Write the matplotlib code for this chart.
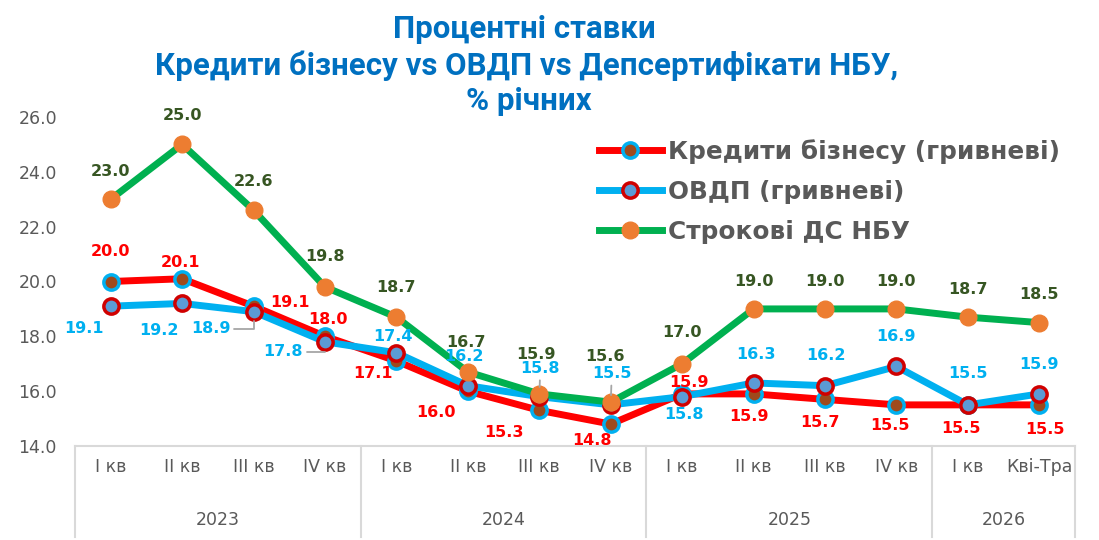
import matplotlib
matplotlib.use("Agg")
import matplotlib.pyplot as plt
import matplotlib.transforms as mtransforms

# ── дані ──
quarters = ["I кв", "II кв", "III кв", "IV кв",
            "I кв", "II кв", "III кв", "IV кв",
            "I кв", "II кв", "III кв", "IV кв",
            "I кв", "Кві-Тра"]
years = ["2023", "2024", "2025", "2026"]
year_spans = [(0, 3), (4, 7), (8, 11), (12, 13)]

credit = [20.0, 20.1, 19.1, 18.0, 17.1, 16.0, 15.3, 14.8, 15.9, 15.9, 15.7, 15.5, 15.5, 15.5]
ovdp = [19.1, 19.2, 18.9, 17.8, 17.4, 16.2, 15.8, 15.5, 15.8, 16.3, 16.2, 16.9, 15.5, 15.9]
ds_nbu = [23.0, 25.0, 22.6, 19.8, 18.7, 16.7, 15.9, 15.6, 17.0, 19.0, 19.0, 19.0, 18.7, 18.5]

labels = ["Кредити бізнесу (гривневі)", "ОВДП (гривневі)", "Строкові ДС НБУ"]

# зсуви підписів у пікселях (dx, dy)
credit_off = [(0, 30), (-2, 16), (36, 4), (3, 17), (-23, -12), (-32, -21), (-35, -22),
              (-19, -16), (7, 11), (-5, -23), (-5, -23), (-6, -21), (-7, -24), (6, -25)]
ovdp_off = [(-27, -22), (-23, -27), (-43, -17), (-42, -10), (-3, 16), (-4, 29), (1, 28),
            (1, 31), (2, -18), (2, 28), (1, 30), (0, 30), (0, 31), (0, 29)]
ds_off = [(0, 28), (0, 29), (0, 29), (0, 30), (0, 30), (-2, 29), (-3, 39),
          (-6, 46), (0, 31), (0, 27), (0, 27), (0, 27), (0, 28), (0, 28)]
ovdp_leader = {2: "elbow", 3: "elbow", 6: "straight", 7: "straight"}

GRAY = "#595959"
AXIS = "#D9D9D9"

fig = plt.figure(figsize=(10.99, 5.40), dpi=100)
ax = fig.add_axes([75 / 1099, 1 - 446 / 540, 1000 / 1099, 329 / 540])

x = list(range(len(quarters)))

l1, = ax.plot(x, credit, color="#FF0000", lw=5, marker="o", ms=11,
              mfc="#9E4A1C", mec="#00B0F0", mew=2.5, zorder=3)
l2, = ax.plot(x, ovdp, color="#00B0F0", lw=5, marker="o", ms=11,
              mfc="#5B9BD5", mec="#D00000", mew=2.5, zorder=4)
l3, = ax.plot(x, ds_nbu, color="#00B050", lw=5, marker="o", ms=12,
              mfc="#ED7D31", mec="#ED7D31", mew=1, zorder=5)

ax.set_xlim(-0.5, len(quarters) - 0.5)
ax.set_ylim(14, 26)
ax.set_yticks(range(14, 27, 2))
ax.set_yticklabels([f"{v:.1f}" for v in range(14, 27, 2)])
ax.set_xticks(x)
ax.set_xticklabels(quarters)
ax.tick_params(axis="y", length=0, pad=13, labelsize=12.5, labelcolor=GRAY)
ax.tick_params(axis="x", length=0, pad=9, labelsize=12.5, labelcolor=GRAY)
for s in ["top", "right", "left"]:
    ax.spines[s].set_visible(False)
ax.spines["bottom"].set_color(AXIS)
ax.spines["bottom"].set_linewidth(1.5)

# рамка категорій
trans = mtransforms.blended_transform_factory(ax.transData, ax.transAxes)
for b in [-0.5, 3.5, 7.5, 11.5, 13.5]:
    ax.plot([b, b], [0, -0.277], transform=trans, color=AXIS, lw=1.5, clip_on=False)
for yr, (a, b) in zip(years, year_spans):
    ax.text((a + b) / 2, -0.225, yr, transform=trans, ha="center", va="center",
            fontsize=12.5, color=GRAY)

# підписи даних
def put_labels(vals, offs, color, leaders=None):
    for i, (v, (dx, dy)) in enumerate(zip(vals, offs)):
        kw = {}
        if leaders and i in leaders:
            cs = "angle,angleA=0,angleB=90,rad=0" if leaders[i] == "elbow" else "arc3"
            kw["arrowprops"] = dict(arrowstyle="-", color="#A6A6A6", lw=1.3,
                                    shrinkA=1, shrinkB=7, connectionstyle=cs)
        ax.annotate(f"{v:.1f}", xy=(i, v), xytext=(dx, dy), textcoords="offset pixels",
                    ha="center", va="center", fontsize=11.5, fontweight="bold",
                    color=color, zorder=10, **kw)

put_labels(credit, credit_off, "#FF0000")
put_labels(ovdp, ovdp_off, "#00B0F0", ovdp_leader)
put_labels(ds_nbu, ds_off, "#375623")

leg = ax.legend([l1, l2, l3], labels, loc="upper right",
                bbox_to_anchor=(1060 / 1099, 1 - 139 / 540), bbox_transform=fig.transFigure,
                frameon=False, prop=dict(weight="bold", size=17.8), labelcolor=GRAY,
                handlelength=2.55, handletextpad=0.25, labelspacing=0.65,
                borderaxespad=0, borderpad=0, numpoints=1)

# заголовок
title_font = dict(family=["Roboto", "DejaVu Sans"], fontsize=22.5, fontweight="bold",
                  color="#0070C0", ha="center", va="baseline")
fig.text(524 / 1099, 1 - 38 / 540, "Процентні ставки", **title_font)
fig.text(527 / 1099, 1 - 75 / 540, "Кредити бізнесу vs ОВДП vs Депсертифікати НБУ,", **title_font)
fig.text(529 / 1099, 1 - 110 / 540, "% річних", **title_font)

fig.savefig("out.png", dpi=100)
